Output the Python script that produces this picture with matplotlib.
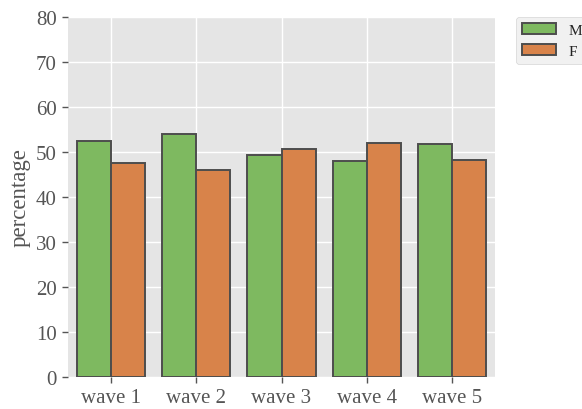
import matplotlib
matplotlib.use("Agg")
import matplotlib.pyplot as plt
import numpy as np

waves = ["wave 1", "wave 2", "wave 3", "wave 4", "wave 5"]
male = [52.5, 54.1, 49.4, 47.9, 51.7]
female = [47.5, 45.9, 50.6, 52.1, 48.3]
series_labels = ["M", "F"]
colors = ["#7eb960", "#d8834a"]
yticks = [0, 10, 20, 30, 40, 50, 60, 70, 80]

plt.style.use("ggplot")
plt.rcParams["font.family"] = ["Liberation Serif", "DejaVu Serif"]

fig = plt.figure(figsize=(5.82, 4.10), dpi=100)
ax = fig.add_axes([68 / 582, 1 - 378 / 410, (495 - 68) / 582, (378 - 18) / 410])

x = np.arange(len(waves))
w = 0.4
ax.bar(x - w / 2, male, width=w, color=colors[0], edgecolor="#4d4d4d",
       linewidth=1.4, label=series_labels[0], zorder=3)
ax.bar(x + w / 2, female, width=w, color=colors[1], edgecolor="#4d4d4d",
       linewidth=1.4, label=series_labels[1], zorder=3)

ax.set_facecolor("#E5E5E5")
ax.grid(True, color="white", linewidth=1.0, zorder=0)
ax.set_axisbelow(True)
for s in ax.spines.values():
    s.set_visible(False)

ax.set_xlim(-0.5, len(waves) - 0.5)
ax.set_ylim(0, 80)
ax.set_yticks(yticks)
ax.set_xticks(x)
ax.set_xticklabels(waves)
ax.tick_params(axis="both", labelsize=15, colors="#555555", length=4,
               width=1.0, labelcolor="#555555", pad=4)
ax.set_ylabel("percentage", fontsize=16.5, color="#555555", labelpad=4)

leg = ax.legend(loc="upper left", bbox_to_anchor=(1.05, 1), borderaxespad=0,
                fontsize=11, frameon=True, facecolor="#EEEEEE",
                edgecolor="#CCCCCC", handlelength=2.2)
for t in leg.get_texts():
    t.set_color("#222222")

fig.savefig("out.png", dpi=100)
